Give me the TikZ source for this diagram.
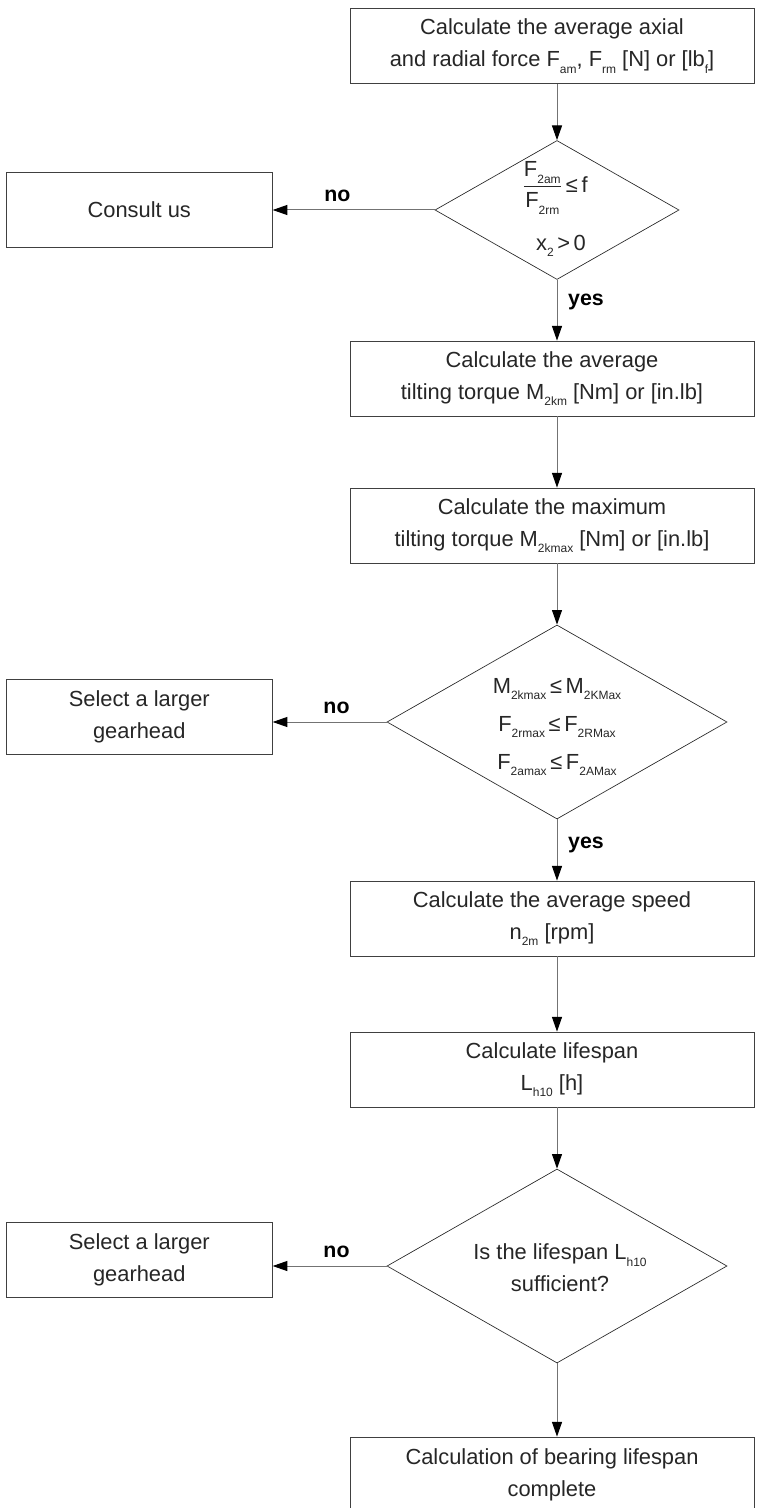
\documentclass[tikz,border=0pt]{standalone}
\usepackage{amsmath}
\usepackage{fontspec}
\setmainfont{Liberation Sans}
\usetikzlibrary{arrows.meta,positioning,shapes.geometric}
\newcommand{\low}[1]{\raisebox{-5pt}{\fontsize{9}{9}\selectfont #1}}
\newcommand{\boxfont}{\fontsize{16.4}{24}\selectfont}

\begin{document}
\begin{tikzpicture}[x=0.75pt, y=-0.75pt,
  box/.style={draw=black!75, line width=0.6pt, align=center, inner sep=0pt,
              minimum width=303pt, minimum height=56.25pt, font=\boxfont, text=black!85},
  side/.style={box, minimum width=199.5pt},
  dec/.style={diamond, draw=black!85, line width=0.5pt, inner sep=0pt},
  txt/.style={align=center, inner sep=0pt, font=\boxfont, text=black!85},
  arr/.style={-{Triangle[length=11pt, width=7.5pt, color=black]}, draw=black!55, line width=0.75pt},
  lbl/.style={inner sep=0pt, font=\fontsize{16}{16}\selectfont\bfseries, text=black}]

\useasboundingbox (0,0) rectangle (756,1508);

% main column
\node[box] (b1) at (552,46) {Calculate the average axial\\and radial force F\low{am}, F\low{rm} [N] or [lb\low{f}]};
\node[dec, minimum width=183pt, minimum height=104.25pt] (q1) at (557,210) {};
\node[txt] (q1a) at (555,188) {$\dfrac{\mbox{F\low{2am}}}{\mbox{F\low{2rm}}}$\,≤\,f};
\node[txt] (q1b) at (561,246) {x\low{2}\,>\,0};
\node[box] (b2) at (552,378.5) {Calculate the average\\tilting torque M\low{2km} [Nm] or [in.lb]};
\node[box] (b3) at (552,525.5) {Calculate the maximum\\tilting torque M\low{2kmax} [Nm] or [in.lb]};
\node[dec, minimum width=255pt, minimum height=145.5pt] (q2) at (557,722) {};
\node[txt, font=\fontsize{16.4}{28.5}\selectfont] (q2t) at (557,727)
  {M\low{2kmax}\,≤\,M\low{2KMax}\\F\low{2rmax}\,≤\,F\low{2RMax}\\F\low{2amax}\,≤\,F\low{2AMax}};
\node[box] (b4) at (552,918.5) {Calculate the average speed\\n\low{2m} [rpm]};
\node[box] (b5) at (552,1069.5) {Calculate lifespan\\L\low{h10} [h]};
\node[dec, minimum width=255pt, minimum height=145.5pt] (q3) at (557,1266) {};
\node[txt] (q3t) at (560,1268) {Is the lifespan L\low{h10}\\sufficient?};
\node[box] (b6) at (552,1474.5) {Calculation of bearing lifespan\\complete};

% side branches
\node[side, left=121.5pt of q1] (consult) {Consult us};
\node[side, left=85.5pt of q2, yshift=4pt] (sel1) {Select a larger\\gearhead};
\node[side, left=85.5pt of q3, yshift=4.5pt] (sel2) {Select a larger\\gearhead};

\draw[arr] (b1.south -| q1) -- (q1.north);
\draw[arr] (q1.south) -- node[lbl, right=8pt, pos=0.36] {yes} (b2.north -| q1);
\draw[arr] (b2.south -| q1) -- (b3.north -| q1);
\draw[arr] (b3.south -| q1) -- (q2.north);
\draw[arr] (q2.south) -- node[lbl, right=8pt, pos=0.42] {yes} (b4.north -| q2);
\draw[arr] (b4.south -| q2) -- (b5.north -| q2);
\draw[arr] (b5.south -| q3) -- (q3.north);
\draw[arr] (q3.south) -- (b6.north -| q3);

\draw[arr] (q1.west) -- node[lbl, above=6pt, pos=0.6] {no} (q1.west -| consult.east);
\draw[arr] (q2.west) -- node[lbl, above=6pt, pos=0.44] {no} (q2.west -| sel1.east);
\draw[arr] (q3.west) -- node[lbl, above=6pt, pos=0.44] {no} (q3.west -| sel2.east);
\end{tikzpicture}
\end{document}
